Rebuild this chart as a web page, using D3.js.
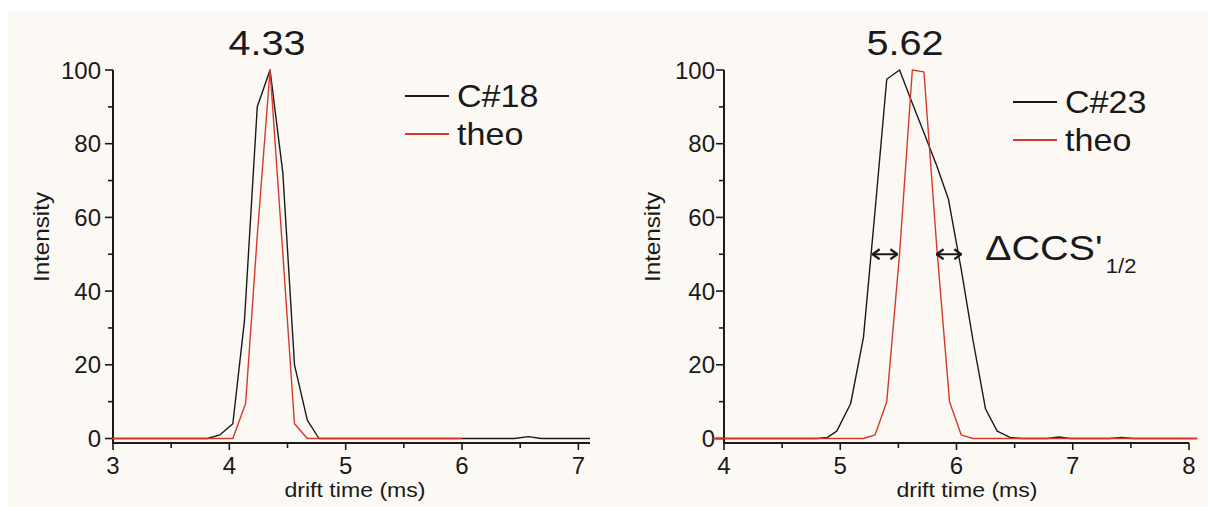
<!DOCTYPE html>
<html lang="en">
  <head>
    <meta charset="UTF-8" />
    <title>Drift time peaks</title>
    <script src="https://d3js.org/d3.v7.min.js"></script>
    <style>
      body {
        margin: 0;
        padding: 0;
        background: #fff;
      }
      svg {
        display: block;
        font-family: "Liberation Sans", Arial, sans-serif;
      }
      .axis-line {
        stroke: #1a1a1a;
        stroke-width: 2;
        fill: none;
      }
      .tick {
        stroke: #1a1a1a;
        stroke-width: 1.6;
      }
      .tick-label {
        font-size: 24px;
        fill: #1a1a1a;
      }
      .axis-title {
        font-size: 21px;
        fill: #1a1a1a;
      }
      .curve {
        fill: none;
        stroke-width: 1.4;
        stroke-linejoin: round;
      }
    </style>
  </head>
  <body>
    <script>
      // Peak data: [drift time (ms), intensity]
      const c18 = [
        [2.99, 0], [3.81, 0], [3.92, 1], [4.03, 4], [4.13, 32], [4.24, 90],
        [4.35, 100], [4.46, 72], [4.56, 20], [4.67, 5], [4.77, 0],
        [6.45, 0], [6.57, 0.5], [6.68, 0], [7.1, 0]
      ];
      const theo18 = [
        [2.99, 0], [4.03, 0], [4.14, 9.5], [4.24, 55], [4.35, 100],
        [4.46, 50], [4.56, 4], [4.67, 0], [6.0, 0]
      ];
      const c23 = [
        [3.9, 0], [4.8, 0], [4.89, 0.3], [4.97, 2], [5.09, 9.5], [5.2, 27.5],
        [5.3, 62], [5.4, 97.5], [5.51, 100], [5.62, 91], [5.72, 83],
        [5.83, 74], [5.93, 65], [6.04, 46], [6.14, 27], [6.25, 8],
        [6.35, 2], [6.46, 0.3], [6.56, 0], [6.78, 0], [6.88, 0.4],
        [6.98, 0], [7.32, 0], [7.42, 0.3], [7.52, 0], [8.07, 0]
      ];
      const theo23 = [
        [3.9, 0], [5.2, 0], [5.3, 1], [5.4, 10], [5.51, 50], [5.62, 100],
        [5.72, 99.5], [5.83, 52], [5.94, 10], [6.04, 1], [6.14, 0], [8.07, 0]
      ];
      // half-maximum width markers on the right panel: [from, to] in ms, at 50 %
      const fwhmArrows = [[5.27, 5.5], [5.82, 6.05]];
      const fwhmLevel = 50;

      const yTicks = [0, 20, 40, 60, 80, 100];
      const yMinor = [10, 30, 50, 70, 90];

      const width = 1208, height = 507;
      const black = "#1a1a1a", red = "#d6392c";
      const stretch = 1.1; // the lettering in the picture is a bit wide

      const svg = d3.select("body").append("svg")
        .attr("width", width)
        .attr("height", height);

      svg.append("defs").append("marker")
        .attr("id", "chev")
        .attr("viewBox", "-9 -6 10 12")
        .attr("refX", 0).attr("refY", 0)
        .attr("markerWidth", 10).attr("markerHeight", 12)
        .attr("markerUnits", "userSpaceOnUse")
        .attr("orient", "auto-start-reverse")
        .append("path")
        .attr("d", "M-7,-5 L0,0 L-7,5")
        .attr("fill", "none")
        .attr("stroke", black)
        .attr("stroke-width", 2.2);

      // off-white photo background
      svg.append("rect")
        .attr("x", 8).attr("y", 11)
        .attr("width", width - 8).attr("height", height - 11)
        .attr("fill", "#fcf9f5");

      // text placed at (x, y) and widened horizontally
      function wideText(g, x, y, size, str, anchor, rot) {
        return g.append("text")
          .attr("transform", `translate(${x},${y})${rot ? " rotate(" + rot + ")" : ""} scale(${stretch},1)`)
          .attr("text-anchor", anchor || "start")
          .attr("font-size", size)
          .attr("fill", black)
          .text(str);
      }

      const panels = [
        {
          xDomain: [3, 7.1], xRange: [113, 590], xTicks: [3, 4, 5, 6, 7],
          xMinor: [3.5, 4.5, 5.5, 6.5], series: [c18, theo18],
          title: "4.33", titleX: 267, legend: "C#18",
          legendX: 405, legendY: 96, yLabelGap: 12, xLabelX: 355, yTitleX: 49
        },
        {
          xDomain: [4, 8], xRange: [724, 1189], xTicks: [4, 5, 6, 7, 8],
          xMinor: [4.5, 5.5, 6.5, 7.5], series: [c23, theo23],
          title: "5.62", titleX: 905, legend: "C#23",
          legendX: 1013, legendY: 102, yLabelGap: 9, xLabelX: 967, yTitleX: 660
        }
      ];

      const y = d3.scaleLinear().domain([0, 100]).range([438.5, 70]);
      const axisY = 443;

      panels.forEach((p, pi) => {
        const x = d3.scaleLinear().domain(p.xDomain).range(p.xRange);
        const g = svg.append("g");
        const x0 = p.xRange[0];

        // axes
        g.append("line").attr("class", "axis-line")
          .attr("x1", x0).attr("x2", x0).attr("y1", y(100)).attr("y2", axisY + 1);
        g.append("line").attr("class", "axis-line")
          .attr("x1", x0 - 1).attr("x2", p.xRange[1]).attr("y1", axisY).attr("y2", axisY);

        // y ticks
        g.selectAll(".ymaj").data(yTicks).join("line").attr("class", "tick")
          .attr("x1", x0 - 8).attr("x2", x0).attr("y1", d => y(d)).attr("y2", d => y(d));
        g.selectAll(".ymin").data(yMinor).join("line").attr("class", "tick")
          .attr("x1", x0 - 5).attr("x2", x0).attr("y1", d => y(d)).attr("y2", d => y(d));
        g.selectAll(".ylab").data(yTicks).join("text").attr("class", "tick-label")
          .attr("x", x0 - p.yLabelGap).attr("y", d => y(d) + 8.5)
          .attr("text-anchor", "end")
          .text(d => d);

        // x ticks
        g.selectAll(".xmaj").data(p.xTicks).join("line").attr("class", "tick")
          .attr("x1", d => x(d)).attr("x2", d => x(d)).attr("y1", axisY).attr("y2", axisY + 7);
        g.selectAll(".xmin").data(p.xMinor).join("line").attr("class", "tick")
          .attr("x1", d => x(d)).attr("x2", d => x(d)).attr("y1", axisY).attr("y2", axisY + 5);
        g.selectAll(".xlab").data(p.xTicks).join("text").attr("class", "tick-label")
          .attr("x", d => x(d)).attr("y", 474)
          .attr("text-anchor", "middle")
          .text(d => d);

        // axis titles
        wideText(g, p.xLabelX, 497, 21, "drift time (ms)", "middle");
        wideText(g, p.yTitleX, 237, 22, "Intensity", "middle", -90);

        // curves
        const line = d3.line().x(d => x(d[0])).y(d => y(d[1]));
        [black, red].forEach((col, i) => {
          g.append("path").attr("class", "curve")
            .attr("stroke", col)
            .attr("d", line(p.series[i]));
        });

        // peak position
        wideText(g, p.titleX, 55, 36, p.title, "middle");

        // legend
        [[p.legend, black], ["theo", red]].forEach(([name, col], i) => {
          const ly = p.legendY + i * 38;
          g.append("line")
            .attr("x1", p.legendX).attr("x2", p.legendX + 44)
            .attr("y1", ly).attr("y2", ly)
            .attr("stroke", col).attr("stroke-width", 2);
          wideText(g, p.legendX + 52, ly + 11, 31, name);
        });

        if (pi === 1) {
          g.selectAll(".fwhm").data(fwhmArrows).join("line")
            .attr("x1", d => x(d[0]) + 1).attr("x2", d => x(d[1]) - 1)
            .attr("y1", y(fwhmLevel)).attr("y2", y(fwhmLevel))
            .attr("stroke", black).attr("stroke-width", 2)
            .attr("marker-start", "url(#chev)")
            .attr("marker-end", "url(#chev)");
          const lab = wideText(g, 985, 260, 36, "");
          lab.append("tspan").text("\u0394CCS'");
          lab.append("tspan").attr("font-size", 20).attr("dy", 13).attr("dx", 3).text("1/2");
        }
      });
    </script>
  </body>
</html>
